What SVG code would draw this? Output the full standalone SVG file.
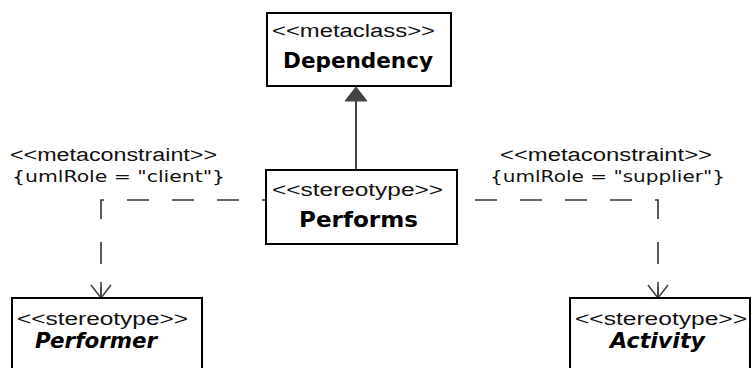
<svg xmlns="http://www.w3.org/2000/svg" width="753" height="368" viewBox="0 0 753 368">
<defs>
<style>
.box{fill:#fff;stroke:#000;stroke-width:2}
.st{font-family:"Liberation Sans",Arial,sans-serif;font-size:18px;fill:#111}
.nm{font-family:"DejaVu Sans",Verdana,sans-serif;font-size:21px;font-weight:bold;fill:#000}
.it{font-style:italic}
.lbl{font-family:"Liberation Sans",Arial,sans-serif;font-size:18px;fill:#111}
.lbl2{font-family:"DejaVu Sans",Verdana,sans-serif;font-size:16px;fill:#111}
.dash{fill:none;stroke:#333;stroke-width:1.6;stroke-dasharray:22 23}
.solid{fill:none;stroke:#444;stroke-width:2}
</style>
</defs>
<rect width="753" height="368" fill="#fff"/>
<g id="connectors">
<line class="solid" x1="356" y1="170" x2="356" y2="100"/>
<polygon points="356,87 345,101 367,101" fill="#444" stroke="#444" stroke-width="1"/>
<path class="dash" d="M267,200 H101 V298" stroke-dashoffset="17"/>
<path class="dash" d="M457,200 H658 V298" stroke-dashoffset="27"/>
<path d="M91,285 L101,298 L111,285 M101,298 V282" fill="none" stroke="#444" stroke-width="1.6"/>
<path d="M648,285 L658,298 L668,285 M658,298 V282" fill="none" stroke="#444" stroke-width="1.6"/>
<text class="lbl" x="10" y="161" textLength="207" lengthAdjust="spacingAndGlyphs">&lt;&lt;metaconstraint&gt;&gt;</text>
<text class="lbl2" x="12" y="182" textLength="213" lengthAdjust="spacingAndGlyphs">{umlRole = "client"}</text>
<text class="lbl" x="500" y="161" textLength="212" lengthAdjust="spacingAndGlyphs">&lt;&lt;metaconstraint&gt;&gt;</text>
<text class="lbl2" x="490" y="182" textLength="235" lengthAdjust="spacingAndGlyphs">{umlRole = "supplier"}</text>
</g>
<g id="dependency">
<rect class="box" x="267" y="13" width="184" height="73"/>
<text class="st" x="272" y="37" textLength="163" lengthAdjust="spacingAndGlyphs">&lt;&lt;metaclass&gt;&gt;</text>
<text class="nm" x="283" y="68" textLength="150" lengthAdjust="spacingAndGlyphs">Dependency</text>
</g>
<g id="performs">
<rect class="box" x="266" y="170" width="191" height="74"/>
<text class="st" x="272" y="196" textLength="171" lengthAdjust="spacingAndGlyphs">&lt;&lt;stereotype&gt;&gt;</text>
<text class="nm" x="299" y="227" textLength="119" lengthAdjust="spacingAndGlyphs">Performs</text>
</g>
<g id="performer">
<rect class="box" x="12" y="298" width="190" height="90"/>
<text class="st" x="17" y="325" textLength="171" lengthAdjust="spacingAndGlyphs">&lt;&lt;stereotype&gt;&gt;</text>
<text class="nm it" x="35" y="348" textLength="122" lengthAdjust="spacingAndGlyphs">Performer</text>
</g>
<g id="activity">
<rect class="box" x="570" y="298" width="180" height="90"/>
<text class="st" x="575" y="325" textLength="172" lengthAdjust="spacingAndGlyphs">&lt;&lt;stereotype&gt;&gt;</text>
<text class="nm it" x="610" y="348" textLength="95" lengthAdjust="spacingAndGlyphs">Activity</text>
</g>
</svg>
